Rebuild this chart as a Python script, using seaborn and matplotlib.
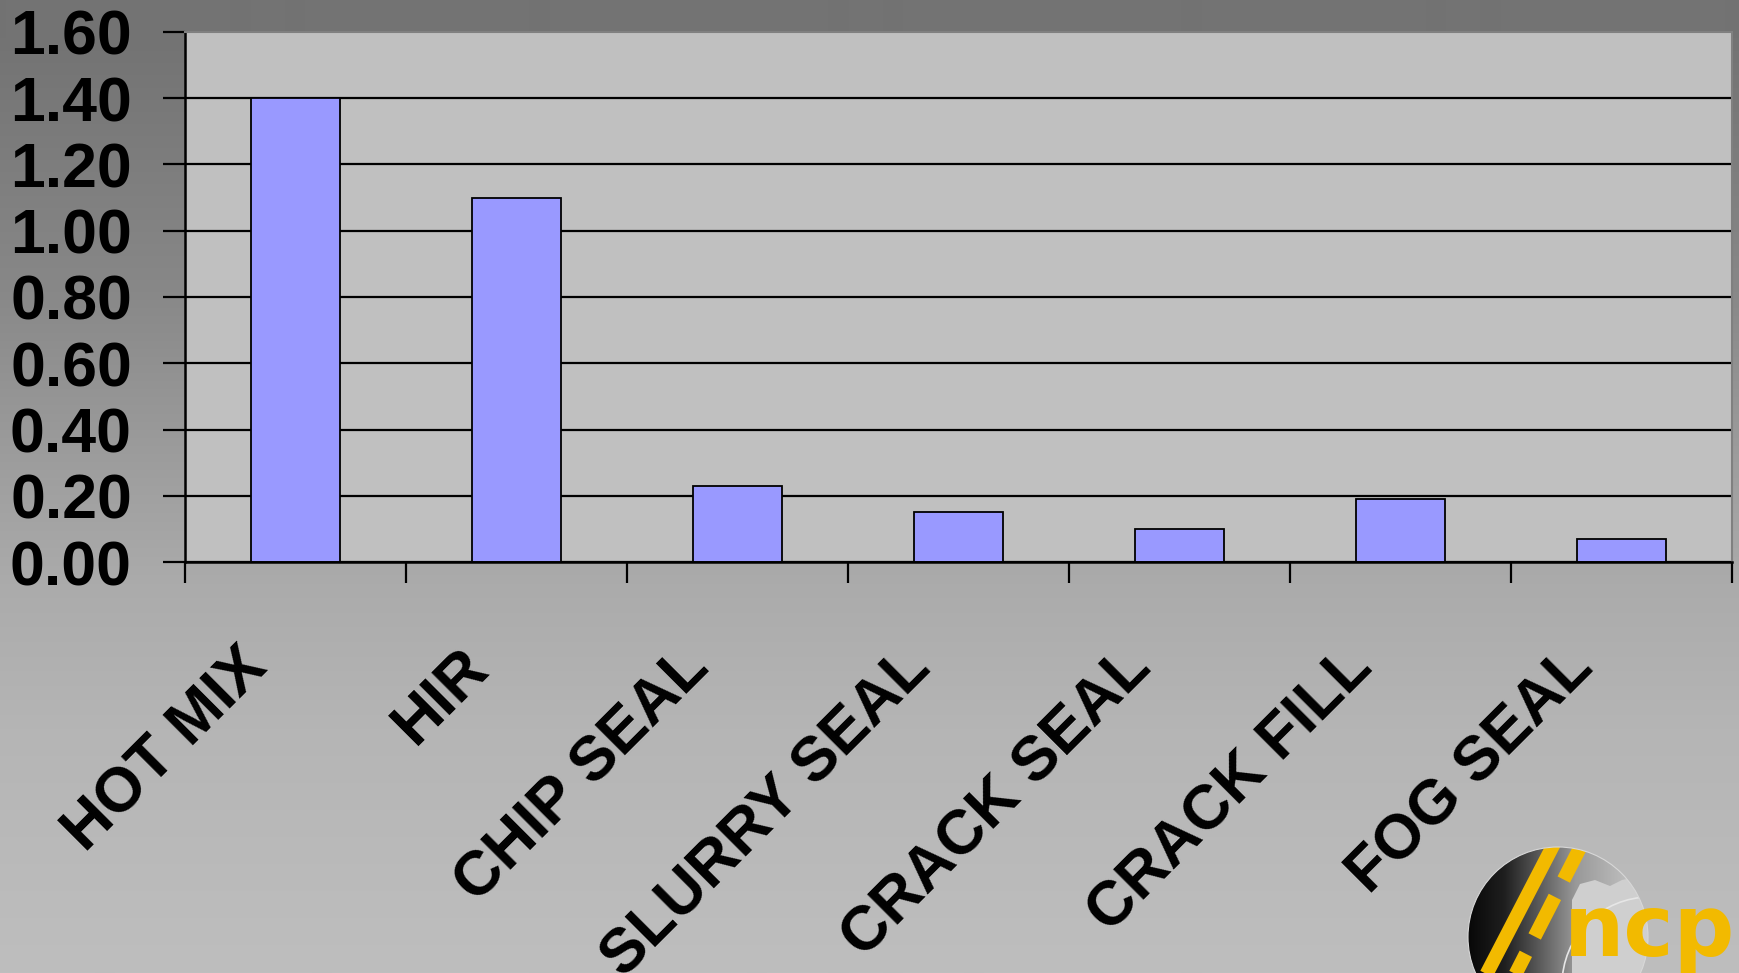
import numpy as np
import pandas as pd
import matplotlib
matplotlib.use("Agg")
import matplotlib.pyplot as plt
import seaborn as sns
from matplotlib.patches import Circle, Polygon

# Treatment categories and their values
categories = ["HOT MIX", "HIR", "CHIP SEAL", "SLURRY SEAL", "CRACK SEAL", "CRACK FILL", "FOG SEAL"]
values = [1.40, 1.10, 0.23, 0.15, 0.10, 0.19, 0.07]
y_ticks = [0.0, 0.2, 0.4, 0.6, 0.8, 1.0, 1.2, 1.4, 1.6]
y_tick_labels = ["0.00", "0.20", "0.40", "0.60", "0.80", "1.00", "1.20", "1.40", "1.60"]

W, H, DPI = 1739, 973, 100
PX = 72.0 / DPI  # points per pixel
FS = 45

sns.set_theme(style="white")
plt.rcParams["font.family"] = ["Liberation Sans", "DejaVu Sans"]
plt.rcParams["font.weight"] = "bold"

fig = plt.figure(figsize=(W / DPI, H / DPI), dpi=DPI)

# Slide background: vertical gray gradient
bg = fig.add_axes([0, 0, 1, 1], zorder=0)
stop_pos = [0.0, 0.04, 0.30, 0.50, 0.60, 0.75, 1.0]
stop_gray = [0x73, 0x73, 0x88, 0xA0, 0xAB, 0xB5, 0xBE]
g = np.interp(np.linspace(0, 1, H), stop_pos, stop_gray) / 255.0
bg.imshow(np.dstack([g[:, None]] * 3), aspect="auto", extent=[0, W, H, 0],
          interpolation="bilinear")
bg.set_xlim(0, W)
bg.set_ylim(H, 0)
bg.axis("off")

# Plot area
left, right, top, bottom = 185, 1732, 32, 562
ax = fig.add_axes([left / W, (H - bottom) / H, (right - left) / W, (bottom - top) / H], zorder=1)
ax.set_facecolor("#C0C0C0")

df = pd.DataFrame({"category": categories, "value": values})
sns.barplot(data=df, x="category", y="value", color="#9999FF", saturation=1,
            width=0.4, edgecolor="black", linewidth=1.3, ax=ax)

ax.set_xlim(-0.5, len(categories) - 0.5)
ax.set_ylim(0, 1.6)
ax.set_xlabel("")
ax.set_ylabel("")

ax.set_yticks(y_ticks)
ax.set_yticklabels(y_tick_labels, fontsize=FS, fontweight="bold", color="black")
ax.tick_params(axis="y", direction="out", length=22 * PX, width=1.6, color="black",
               pad=31 * PX, left=True)

ax.set_xticks(np.arange(-0.5, len(categories), 1.0))
ax.set_xticklabels([])
ax.tick_params(axis="x", direction="out", length=21 * PX, width=1.6, color="black",
               bottom=True, labelbottom=False)

ax.yaxis.grid(True, color="black", linewidth=1.6)
ax.xaxis.grid(False)
ax.set_axisbelow(True)
ax.get_ygridlines()[-1].set_visible(False)

for side in ("left", "bottom"):
    ax.spines[side].set_color("black")
    ax.spines[side].set_linewidth(1.8)
for side in ("top", "right"):
    ax.spines[side].set_color("#808080")
    ax.spines[side].set_linewidth(1.5)

# Rotated category labels
for i, cat in enumerate(categories):
    ax.annotate(cat, xy=(i, 0), xycoords=("data", "axes fraction"),
                xytext=(-26 * PX, -108 * PX), textcoords="offset points",
                rotation=45, rotation_mode="anchor", ha="right", va="baseline",
                fontsize=FS, fontweight="bold", color="black", annotation_clip=False)

# Logo in the lower right corner
lg = fig.add_axes([0, 0, 1, 1], zorder=5)
lg.set_xlim(0, W)
lg.set_ylim(H, 0)
lg.axis("off")
lg.patch.set_alpha(0)

cx, cy, r = 1558, 937, 90
disc = Circle((cx, cy), r, transform=lg.transData)
shade = np.interp(np.linspace(0, 1, 200), [0, 0.2, 0.6, 1.0], [0.03, 0.12, 0.60, 0.80])
im = lg.imshow(np.dstack([shade[None, :]] * 3), aspect="auto",
               extent=[cx - r, cx + r, cy + r, cy - r], interpolation="bilinear", zorder=1)
im.set_clip_path(disc)

cloud = Polygon([(1572, 900), (1580, 884), (1595, 880), (1610, 886), (1622, 880),
                 (1637, 877), (1652, 888), (1660, 900), (1660, 1030), (1572, 1030)],
                closed=True, facecolor="#CFCFCF", edgecolor="none", zorder=2)
lg.add_patch(cloud)
cloud.set_clip_path(disc)

ring = Circle((1650, 985), 88, facecolor="none", edgecolor="#E6E6E6", linewidth=1.2, zorder=3)
lg.add_patch(ring)
ring.set_clip_path(disc)

solid, = lg.plot([1556, 1486], [840, 975], color="#F2BA00", linewidth=10, zorder=4,
                 solid_capstyle="butt")
solid.set_clip_path(disc)
dashed, = lg.plot([1584, 1515], [840, 975], color="#F2BA00", linewidth=10, zorder=4,
                  dashes=(3.2, 1.4), dash_capstyle="butt")
dashed.set_clip_path(disc)

edge = Circle((cx, cy), r, facecolor="none", edgecolor="#D8D8D8", linewidth=0.8, zorder=5)
lg.add_patch(edge)

lg.text(1564, 956, "ncp", fontsize=61, fontweight="bold", color="#F2BA00",
        family=["DejaVu Sans"], ha="left", va="baseline", zorder=6)

fig.savefig("out.png", dpi=DPI)
